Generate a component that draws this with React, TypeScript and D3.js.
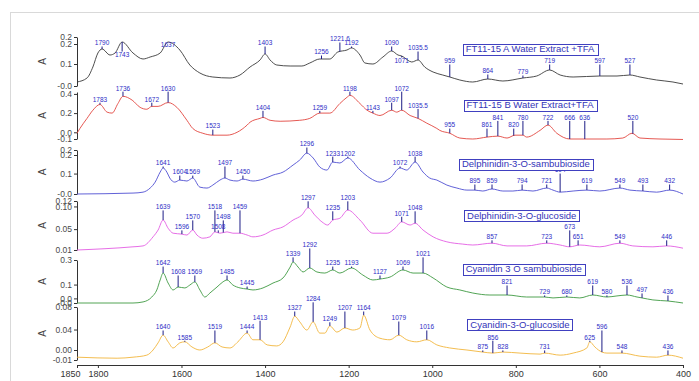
import React, { useEffect, useRef } from 'react';
import * as d3 from 'd3';

// sample names (panel titles), top to bottom
const sampleNames = [
  'FT11-15 A Water Extract +TFA',
  'FT11-15 B Water Extract+TFA',
  'Delphinidin-3-O-sambubioside',
  'Delphinidin-3-O-glucoside',
  'Cyanidin 3 O sambubioside',
  'Cyanidin-3-O-glucoside',
];

const xTicks = [1850, 1800, 1600, 1400, 1200, 1000, 800, 600, 400];

// absorbance axis range of each panel, and its tick labels
const yDomains: [number, number][] = [
  [-0.01, 0.235],
  [-0.07, 0.42],
  [-0.01, 0.227],
  [0.004, 0.112],
  [-0.02, 0.26],
  [-0.0195, 0.084],
];
const yTicks: [number, string][][] = [
  [[0.235, '0.2'], [0.2, '0.2'], [0.1, '0.1'], [-0.01, '-0.0']],
  [[0.4, '0.4'], [0.2, '0.2'], [0.0, '0.0'], [-0.07, '-0.1']],
  [[0.227, '0.2'], [0.2, '0.2'], [0.1, '0.1'], [-0.01, '-0.0']],
  [[0.112, '0.12'], [0.1, '0.10'], [0.05, '0.05'], [0.004, '0.01']],
  [[0.26, '0.3'], [0.1, '0.1'], [0.01, '0.0'], [-0.02, '-0.0']],
  [[0.084, '0.08'], [0.04, '0.04'], [0.0, '0.00'], [-0.0195, '-0.01']],
];

// spectra: [wavenumber cm-1, absorbance]
const ft11A: [number, number][] = [
  [1850, 0.01], [1826, 0.03], [1812, 0.085], [1800, 0.155], [1790, 0.175], [1771, 0.145], [1759, 0.155],
  [1742, 0.21], [1716, 0.155], [1692, 0.125], [1675, 0.135], [1651, 0.155], [1632, 0.21], [1604, 0.17],
  [1580, 0.095], [1556, 0.055], [1525, 0.035], [1484, 0.03], [1460, 0.045], [1436, 0.085], [1412, 0.12],
  [1400, 0.15], [1388, 0.12], [1372, 0.095], [1340, 0.09], [1312, 0.09], [1293, 0.105], [1269, 0.125],
  [1245, 0.125], [1226, 0.16], [1204, 0.17], [1193, 0.18], [1173, 0.145], [1161, 0.105], [1142, 0.1],
  [1118, 0.135], [1097, 0.165], [1082, 0.145], [1073, 0.14], [1049, 0.11], [1034, 0.12], [1018, 0.085],
  [998, 0.06], [975, 0.045], [958, 0.035], [934, 0.02], [903, 0.01], [867, 0.025], [831, 0.015],
  [783, 0.03], [750, 0.04], [719, 0.07], [694, 0.045], [663, 0.035], [599, 0.04], [558, 0.04],
  [527, 0.045], [503, 0.035], [463, 0.02], [424, 0.01], [400, 0.0],
];

const ft11B: [number, number][] = [
  [1850, -0.01], [1843, 0.04], [1826, 0.145], [1812, 0.23], [1795, 0.29], [1778, 0.21], [1766, 0.2],
  [1752, 0.3], [1740, 0.375], [1718, 0.335], [1699, 0.26], [1683, 0.24], [1671, 0.27], [1656, 0.27],
  [1632, 0.31], [1611, 0.26], [1587, 0.125], [1573, 0.04], [1549, -0.01], [1525, -0.03], [1491, -0.03],
  [1467, 0.0], [1443, 0.075], [1436, 0.105], [1412, 0.145], [1405, 0.155], [1388, 0.125], [1364, 0.115],
  [1317, 0.125], [1293, 0.145], [1269, 0.2], [1245, 0.2], [1221, 0.3], [1204, 0.365], [1197, 0.385],
  [1173, 0.3], [1156, 0.23], [1142, 0.2], [1125, 0.175], [1097, 0.23], [1085, 0.21], [1073, 0.23],
  [1053, 0.175], [1034, 0.145], [1013, 0.095], [989, 0.04], [982, 0.02], [958, -0.01], [934, -0.06],
  [903, -0.07], [869, -0.05], [843, -0.04], [821, -0.06], [802, -0.03], [783, -0.03], [774, -0.05],
  [742, 0.02], [723, 0.075], [702, -0.01], [671, -0.07], [630, -0.07], [582, -0.07], [544, -0.06],
  [522, -0.01], [503, -0.06], [455, -0.07], [400, -0.075],
];

const delphSamb: [number, number][] = [
  [1850, -0.01], [1716, -0.005], [1692, 0.0], [1675, 0.022], [1663, 0.054], [1651, 0.108], [1644, 0.13],
  [1635, 0.108], [1628, 0.076], [1616, 0.054], [1604, 0.065], [1587, 0.06], [1573, 0.076], [1556, 0.027],
  [1539, 0.022], [1525, 0.038], [1508, 0.065], [1496, 0.076], [1484, 0.065], [1467, 0.06], [1453, 0.07],
  [1429, 0.06], [1405, 0.07], [1381, 0.092], [1357, 0.108], [1333, 0.146], [1317, 0.173], [1300, 0.21],
  [1285, 0.184], [1269, 0.135], [1252, 0.119], [1238, 0.162], [1221, 0.157], [1202, 0.184], [1173, 0.119],
  [1149, 0.076], [1125, 0.054], [1101, 0.076], [1077, 0.13], [1061, 0.119], [1041, 0.162], [1022, 0.108],
  [1006, 0.076], [989, 0.065], [965, 0.038], [941, 0.022], [917, 0.011], [898, 0.011], [879, 0.006],
  [857, 0.017], [831, 0.006], [807, 0.006], [785, 0.011], [759, 0.006], [726, 0.022], [711, 0.011],
  [694, 0.0], [663, 0.006], [630, 0.011], [599, 0.006], [551, 0.022], [527, 0.011], [496, 0.006],
  [463, 0.0], [432, 0.011], [400, -0.01],
];

const delphGluc: [number, number][] = [
  [1850, 0.004], [1716, 0.011], [1692, 0.013], [1668, 0.033], [1656, 0.048], [1644, 0.07], [1632, 0.052],
  [1620, 0.041], [1599, 0.039], [1587, 0.037], [1573, 0.048], [1563, 0.037], [1549, 0.03], [1532, 0.033],
  [1520, 0.044], [1508, 0.041], [1491, 0.044], [1477, 0.041], [1460, 0.041], [1443, 0.037], [1429, 0.033],
  [1405, 0.037], [1381, 0.048], [1357, 0.055], [1333, 0.07], [1312, 0.081], [1297, 0.097], [1281, 0.081],
  [1264, 0.066], [1250, 0.059], [1238, 0.07], [1221, 0.074], [1202, 0.092], [1173, 0.07], [1142, 0.041],
  [1108, 0.041], [1089, 0.052], [1073, 0.066], [1053, 0.059], [1041, 0.063], [1022, 0.048], [998, 0.033],
  [965, 0.022], [927, 0.017], [903, 0.015], [857, 0.019], [821, 0.013], [774, 0.013], [726, 0.019],
  [694, 0.015], [671, 0.011], [647, 0.015], [599, 0.011], [551, 0.019], [520, 0.013], [472, 0.011],
  [439, 0.013], [400, 0.008],
];

const cyanSamb: [number, number][] = [
  [1850, -0.02], [1716, -0.02], [1692, -0.013], [1671, 0.019], [1659, 0.065], [1651, 0.13], [1644, 0.175],
  [1632, 0.11], [1620, 0.065], [1608, 0.084], [1592, 0.078], [1580, 0.097], [1568, 0.117], [1556, 0.065],
  [1544, 0.019], [1532, 0.045], [1515, 0.084], [1501, 0.117], [1491, 0.13], [1477, 0.097], [1460, 0.078],
  [1443, 0.071], [1429, 0.065], [1405, 0.078], [1381, 0.11], [1357, 0.143], [1340, 0.214], [1333, 0.247],
  [1321, 0.214], [1309, 0.182], [1293, 0.208], [1276, 0.182], [1257, 0.175], [1238, 0.195], [1221, 0.175],
  [1193, 0.208], [1166, 0.162], [1142, 0.13], [1125, 0.136], [1101, 0.149], [1070, 0.195], [1046, 0.175],
  [1022, 0.175], [998, 0.143], [965, 0.084], [934, 0.065], [903, 0.045], [862, 0.032], [821, 0.032],
  [774, 0.019], [731, 0.019], [711, 0.013], [678, 0.019], [647, 0.013], [616, 0.032], [582, 0.019],
  [558, 0.026], [534, 0.032], [510, 0.019], [498, 0.013], [472, 0.0], [436, -0.007], [400, -0.02],
];

const cyanGluc: [number, number][] = [
  [1850, -0.014], [1754, -0.016], [1716, -0.014], [1683, -0.01], [1668, 0.0], [1656, 0.014], [1644, 0.029],
  [1632, 0.016], [1620, 0.004], [1604, 0.014], [1592, 0.016], [1575, 0.006], [1556, 0.0], [1537, 0.006],
  [1520, 0.014], [1503, 0.006], [1484, 0.004], [1465, 0.016], [1443, 0.033], [1429, 0.02], [1412, 0.02],
  [1395, 0.01], [1372, 0.008], [1357, 0.016], [1340, 0.045], [1329, 0.066], [1317, 0.055], [1300, 0.039],
  [1285, 0.055], [1269, 0.033], [1257, 0.033], [1245, 0.047], [1228, 0.035], [1209, 0.043], [1190, 0.039],
  [1173, 0.043], [1164, 0.068], [1149, 0.039], [1125, 0.023], [1101, 0.02], [1080, 0.029], [1061, 0.02],
  [1037, 0.016], [1013, 0.02], [989, 0.01], [958, 0.004], [917, 0.0], [879, -0.004], [855, -0.006],
  [831, -0.004], [790, -0.006], [742, -0.008], [731, -0.006], [694, -0.01], [663, -0.006], [630, 0.004],
  [623, 0.016], [611, 0.006], [594, -0.004], [582, -0.006], [546, -0.006], [503, -0.012], [463, -0.014],
  [436, -0.01], [400, -0.016],
];

// peak picks: [wavenumber, label, absorbance where the label sits]
const peaksA: [number, string, number][] = [
  [1790, '1790', 0.205], [1742, '1743', 0.145], [1632, '1637', 0.195], [1400, '1403', 0.205],
  [1265, '1256', 0.16], [1221, '1221.6', 0.225], [1193, '1192', 0.205], [1097, '1090', 0.205],
  [1073, '1071', 0.115], [1034, '1035.5', 0.18], [958, '959', 0.115], [867, '864', 0.065],
  [783, '779', 0.06], [719, '719', 0.115], [599, '597', 0.115], [527, '527', 0.115],
];
const peaksB: [number, string, number][] = [
  [1795, '1783', 0.345], [1740, '1736', 0.46], [1671, '1672', 0.345], [1632, '1630', 0.46],
  [1525, '1523', 0.065], [1405, '1404', 0.26], [1269, '1259', 0.26], [1197, '1198', 0.46],
  [1142, '1143', 0.26], [1097, '1097', 0.345], [1073, '1072', 0.46], [1034, '1035.5', 0.28],
  [958, '955', 0.075], [869, '861', 0.075], [843, '841', 0.155], [805, '820', 0.075],
  [783, '780', 0.155], [723, '722', 0.155], [671, '666', 0.155], [635, '636', 0.155], [520, '520', 0.155],
];
const peaksDS: [number, string, number][] = [
  [1644, '1641', 0.157], [1604, '1604', 0.108], [1573, '1569', 0.108], [1496, '1497', 0.157],
  [1453, '1450', 0.108], [1300, '1296', 0.259], [1238, '1233', 0.21], [1202, '1202', 0.21],
  [1077, '1072', 0.157], [1041, '1038', 0.21], [898, '895', 0.06], [857, '859', 0.06],
  [785, '794', 0.06], [726, '721', 0.06], [694, '694', 0.119], [630, '619', 0.06],
  [551, '549', 0.06], [496, '493', 0.06], [432, '432', 0.06],
];
const peaksDG: [number, string, number][] = [
  [1644, '1639', 0.099], [1599, '1596', 0.055], [1573, '1570', 0.077], [1520, '1518', 0.099],
  [1500, '1498', 0.077], [1512, '1508', 0.055], [1460, '1459', 0.099], [1297, '1297', 0.119],
  [1238, '1235', 0.097], [1202, '1203', 0.119], [1073, '1071', 0.085], [1041, '1048', 0.097],
  [857, '857', 0.033], [726, '723', 0.033], [671, '673', 0.055], [651, '651', 0.033],
  [551, '549', 0.033], [439, '446', 0.033],
];
const peaksCS: [number, string, number][] = [
  [1644, '1642', 0.24], [1608, '1608', 0.182], [1568, '1569', 0.182], [1491, '1485', 0.182],
  [1443, '1445', 0.11], [1333, '1339', 0.3], [1293, '1292', 0.358], [1238, '1235', 0.24],
  [1193, '1193', 0.24], [1125, '1127', 0.182], [1070, '1069', 0.24], [1022, '1021', 0.3],
  [821, '821', 0.117], [731, '729', 0.052], [678, '680', 0.052], [616, '619', 0.117],
  [582, '580', 0.052], [534, '536', 0.117], [498, '497', 0.065], [436, '436', 0.052],
];
const peaksCG: [number, string, number][] = [
  [1644, '1640', 0.045], [1592, '1585', 0.025], [1520, '1519', 0.045], [1443, '1444', 0.045],
  [1412, '1413', 0.064], [1329, '1327', 0.082], [1285, '1284', 0.1], [1245, '1249', 0.061],
  [1209, '1207', 0.082], [1164, '1164', 0.082], [1080, '1079', 0.0625], [1013, '1016', 0.045],
  [879, '875', 0.006], [855, '856', 0.025], [831, '828', 0.006], [731, '731', 0.006],
  [623, '625', 0.025], [594, '596', 0.045], [546, '548', 0.006], [436, '436', 0.006],
];

const spectra = [ft11A, ft11B, delphSamb, delphGluc, cyanSamb, cyanGluc];
const peaks = [peaksA, peaksB, peaksDS, peaksDG, peaksCS, peaksCG];

const valueAt = (pts: [number, number][], wn: number) => {
  for (let i = 0; i < pts.length - 1; i++) {
    const [w0, v0] = pts[i];
    const [w1, v1] = pts[i + 1];
    if (wn <= w0 && wn >= w1) return v0 + ((v1 - v0) * (w0 - wn)) / (w0 - w1);
  }
  return pts[pts.length - 1][1];
};

const App: React.FC = () => {
  const svgRef = useRef<SVGSVGElement>(null);

  useEffect(() => {
    if (!svgRef.current) return;
    const svg = d3.select(svgRef.current);
    svg.selectAll('*').remove();

    const font = '"Liberation Sans", Arial, sans-serif';
    const colors = ['#3a3a3a', '#e2463f', '#4f4fd2', '#e35de3', '#3e9a42', '#f2b63c'];
    const tops = [37, 92, 150, 201, 260, 307];
    const bottoms = [86, 139, 194, 250, 303, 360];
    const titleDy = [12, 13, 14, 14.5, 9, 17.5];
    const titleWn = [766, 766, 776, 786, 781, 790];

    // outer frame
    svg.append('rect')
      .attr('x', 10.5).attr('y', 12.5)
      .attr('width', 720).attr('height', 400)
      .attr('fill', 'none').attr('stroke', '#d9d9d9');

    const x = d3.scaleLinear().domain([1850, 400]).range([77, 683]);

    // x axis
    const xAxis = svg.append('g')
      .attr('transform', 'translate(0,365)')
      .call(d3.axisBottom(x).tickValues(xTicks).tickSize(3).tickFormat(d3.format('d')));
    xAxis.select('.domain').attr('stroke', '#333');
    xAxis.selectAll('line').attr('stroke', '#333');
    xAxis.selectAll('text')
      .attr('font-family', font).attr('font-size', 9).attr('fill', '#333')
      .attr('dx', (d: any) => (d === 1850 ? -7 : 0));

    spectra.forEach((pts, i) => {
      const y = d3.scaleLinear().domain(yDomains[i]).range([bottoms[i], tops[i]]);
      const g = svg.append('g');

      // y axis
      const ya = g.append('g')
        .attr('transform', 'translate(77,0)')
        .call(d3.axisLeft(y)
          .tickValues(yTicks[i].map(t => t[0]))
          .tickFormat((_, k) => yTicks[i][k][1])
          .tickSize(3).tickSizeOuter(0));
      ya.select('.domain').attr('stroke', '#333');
      ya.selectAll('line').attr('stroke', '#333');
      ya.selectAll('text')
        .attr('font-family', font).attr('font-size', 8.5).attr('fill', '#4a4a4a').attr('dx', 1);

      g.append('text')
        .attr('transform', `translate(42,${(tops[i] + bottoms[i]) / 2}) rotate(-90)`)
        .attr('text-anchor', 'middle')
        .attr('dy', '0.35em')
        .attr('font-family', font).attr('font-size', 10).attr('fill', '#444')
        .text('A');

      // spectrum
      const line = d3.line<[number, number]>()
        .x(d => x(d[0]))
        .y(d => y(d[1]))
        .curve(d3.curveMonotoneX);
      g.append('path')
        .datum(pts)
        .attr('fill', 'none')
        .attr('stroke', colors[i])
        .attr('stroke-width', 0.9)
        .attr('d', line);

      // peak picks
      peaks[i].forEach(([wn, lab, lv]) => {
        const px = x(wn);
        const ly = y(lv);
        const cy = y(valueAt(pts, wn));
        if (cy > ly + 4) {
          g.append('line')
            .attr('x1', px).attr('x2', px).attr('y1', ly + 3.5).attr('y2', cy)
            .attr('stroke', '#1d1d86').attr('stroke-width', 1);
        } else if (cy < ly - 4) {
          g.append('line')
            .attr('x1', px).attr('x2', px).attr('y1', cy).attr('y2', ly - 3.5)
            .attr('stroke', '#1d1d86').attr('stroke-width', 1);
        }
        g.append('text')
          .attr('x', px).attr('y', ly + 2.4)
          .attr('text-anchor', 'middle')
          .attr('font-family', font).attr('font-size', 6.5)
          .attr('fill', '#2d2dc6')
          .text(lab);
      });

      // sample name box
      const cx = x(titleWn[i]);
      const cyT = tops[i] + titleDy[i];
      const box = g.append('rect').attr('fill', '#fff').attr('stroke', '#4040c0').attr('stroke-width', 1);
      const t = g.append('text')
        .attr('x', cx).attr('y', cyT)
        .attr('dy', '0.35em')
        .attr('text-anchor', 'middle')
        .attr('font-family', font).attr('font-size', 9.5)
        .attr('fill', '#3434b8')
        .text(sampleNames[i]);
      const w = (t.node() as SVGTextElement).getComputedTextLength();
      box.attr('x', Math.round(cx - w / 2 - 3) + 0.5)
        .attr('y', Math.round(cyT - 5.5) + 0.5)
        .attr('width', Math.round(w + 6))
        .attr('height', 11);
    });
  }, []);

  return (
    <svg
      ref={svgRef}
      width={699}
      height={381}
      style={{ position: 'absolute', left: 0, top: 0, background: '#fff' }}
    />
  );
};

export default App;
